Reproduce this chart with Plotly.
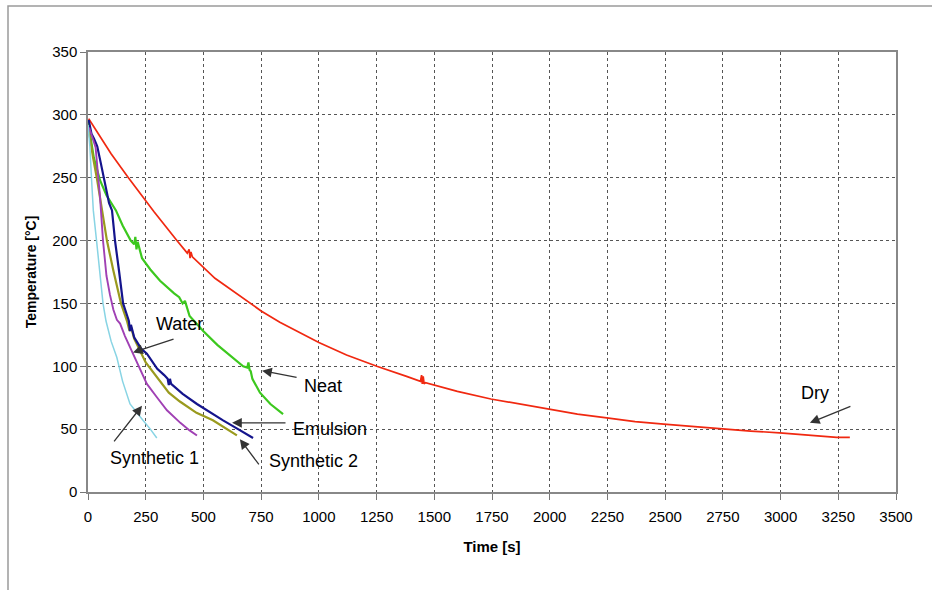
import plotly.graph_objects as go

# ---- data ----
dry_t = [3, 50, 100, 175, 286, 385, 430, 438, 442, 446, 452, 550, 671, 750, 831, 1000, 1120, 1251,
         1380, 1440, 1445, 1448, 1452, 1456, 1462, 1600, 1745, 1870, 1992, 2120, 2247, 2370, 2494,
         2620, 2745, 2870, 2996, 3120, 3243, 3300]
dry_T = [297, 283, 269, 250, 223, 200, 190, 193, 186, 191, 187, 170, 154, 144, 135, 119, 109, 100,
         92, 88, 93, 86, 92, 86, 87, 80, 74, 70, 66, 62, 59, 56, 54, 52, 50, 48.5, 47, 45.5, 43.5, 43.5]

neat_t = [0, 10, 25, 52, 80, 121, 150, 185, 200, 205, 210, 215, 234, 270, 312, 373, 395, 410, 420,
          440, 499, 560, 620, 672, 690, 695, 700, 705, 712, 745, 790, 845]
neat_T = [295, 283, 266, 248, 236, 224, 212, 200, 197, 203, 193, 199, 186, 177, 168, 158, 155, 150,
          152, 140, 128, 117, 108, 100, 99, 103, 97, 96, 90, 79, 70, 62]

water_t = [3, 15, 26, 40, 55, 69, 91, 104, 117, 135, 152, 170, 177, 182, 186, 200, 230, 255, 300,
           330, 345, 350, 355, 360, 380, 410, 472, 530, 585, 650, 715]
water_T = [296, 285, 281, 275, 262, 250, 230, 224, 200, 175, 150, 140, 136, 128, 133, 123, 114, 110,
           98, 93, 90, 85, 90, 86, 83, 78, 70, 63, 57, 50, 43]

emul_t = [0, 10, 22, 40, 61, 82, 110, 143, 169, 180, 185, 200, 250, 312, 350, 398, 470, 541, 600, 645]
emul_T = [292, 280, 266, 248, 224, 200, 176, 150, 136, 128, 132, 122, 103, 88, 79, 72, 63, 57, 50, 45]

syn2_t = [5, 20, 33, 42, 52, 65, 80, 95, 110, 125, 139, 160, 195, 225, 255, 300, 342, 400, 440, 472]
syn2_T = [290, 282, 274, 255, 235, 200, 172, 157, 145, 137, 134, 124, 110, 97, 86, 75, 65, 55, 49, 45]

syn1_t = [0, 8, 15, 23, 37, 50, 65, 78, 100, 125, 150, 182, 210, 238, 270, 298]
syn1_T = [292, 275, 250, 224, 200, 175, 150, 136, 120, 107, 88, 70, 63, 57, 50, 43]

x_ticks = [0, 250, 500, 750, 1000, 1250, 1500, 1750, 2000, 2250, 2500, 2750, 3000, 3250, 3500]
y_ticks = [0, 50, 100, 150, 200, 250, 300, 350]

# labels: (text, text_x, text_y, tail_x, tail_y, head_x, head_y)
labels = [
    ("Water", 398, 134, 377, 122, 195, 111),
    ("Neat", 1018, 84.5, 910, 91, 754, 96.5),
    ("Emulsion", 1048, 50, 862, 55, 624, 55),
    ("Synthetic 2", 975, 24.7, 745, 20.7, 658, 42),
    ("Synthetic 1", 290, 27, 108, 39, 234, 68.6),
    ("Dry", 3149, 79, 3309, 68.6, 3127, 55),
]

FONT = "Liberation Sans, Arial, sans-serif"

fig = go.Figure()
series = [
    (dry_t, dry_T, "#F02810", 1.7),
    (neat_t, neat_T, "#3CC81E", 2.2),
    (emul_t, emul_T, "#9A9A1E", 2.2),
    (water_t, water_T, "#14148C", 2.2),
    (syn2_t, syn2_T, "#A040B4", 1.9),
    (syn1_t, syn1_T, "#88D4E4", 1.5),
]
for t, T, c, w in series:
    fig.add_trace(go.Scatter(x=t, y=T, mode="lines", line=dict(color=c, width=w),
                             showlegend=False, hoverinfo="skip"))

annotations = []
for text, tx, ty, ax, ay, hx, hy in labels:
    annotations.append(dict(x=tx, y=ty, xref="x", yref="y", text=text, showarrow=False,
                            font=dict(family=FONT, size=18, color="#000")))
    annotations.append(dict(x=hx, y=hy, xref="x", yref="y", ax=ax, ay=ay, axref="x", ayref="y",
                            text="", showarrow=True, arrowhead=2, arrowsize=1.5,
                            arrowwidth=1.3, arrowcolor="#333", standoff=0, startstandoff=0))

fig.update_layout(
    width=932, height=590,
    margin=dict(l=88, r=36, t=52, b=98),
    paper_bgcolor="white", plot_bgcolor="white",
    font=dict(family=FONT, size=14, color="#000"),
    annotations=annotations,
    shapes=[dict(type="rect", xref="paper", yref="paper",
                 x0=(8 - 88) / 808, x1=1.1, y0=-0.3, y1=(492 - 6) / 440,
                 line=dict(color="#9a9a9a", width=1.5), layer="below")],
)
fig.update_xaxes(range=[0, 3500], tickvals=x_ticks, ticks="outside", ticklen=6,
                 tickcolor="#777", showline=True, linecolor="#888", linewidth=1.5, mirror=True,
                 showgrid=True, gridcolor="#555", griddash="dot", gridwidth=1, zeroline=False,
                 ticklabelstandoff=4,
                 tickfont=dict(family=FONT, size=15),
                 title=dict(text="<b>Time [s]</b>", font=dict(family=FONT, size=15), standoff=18))
fig.update_yaxes(range=[0, 350], tickvals=y_ticks, ticks="outside", ticklen=6,
                 tickcolor="#777", showline=True, linecolor="#888", linewidth=1.5, mirror=True,
                 showgrid=True, gridcolor="#555", griddash="dot", gridwidth=1, zeroline=False,
                 ticklabelstandoff=0,
                 tickfont=dict(family=FONT, size=15),
                 title=dict(text="<b>Temperature [°C]</b>", font=dict(family=FONT, size=14), standoff=12))

fig.write_html("out.html", config={"displayModeBar": False},
               post_script="document.body.style.margin='0';")
